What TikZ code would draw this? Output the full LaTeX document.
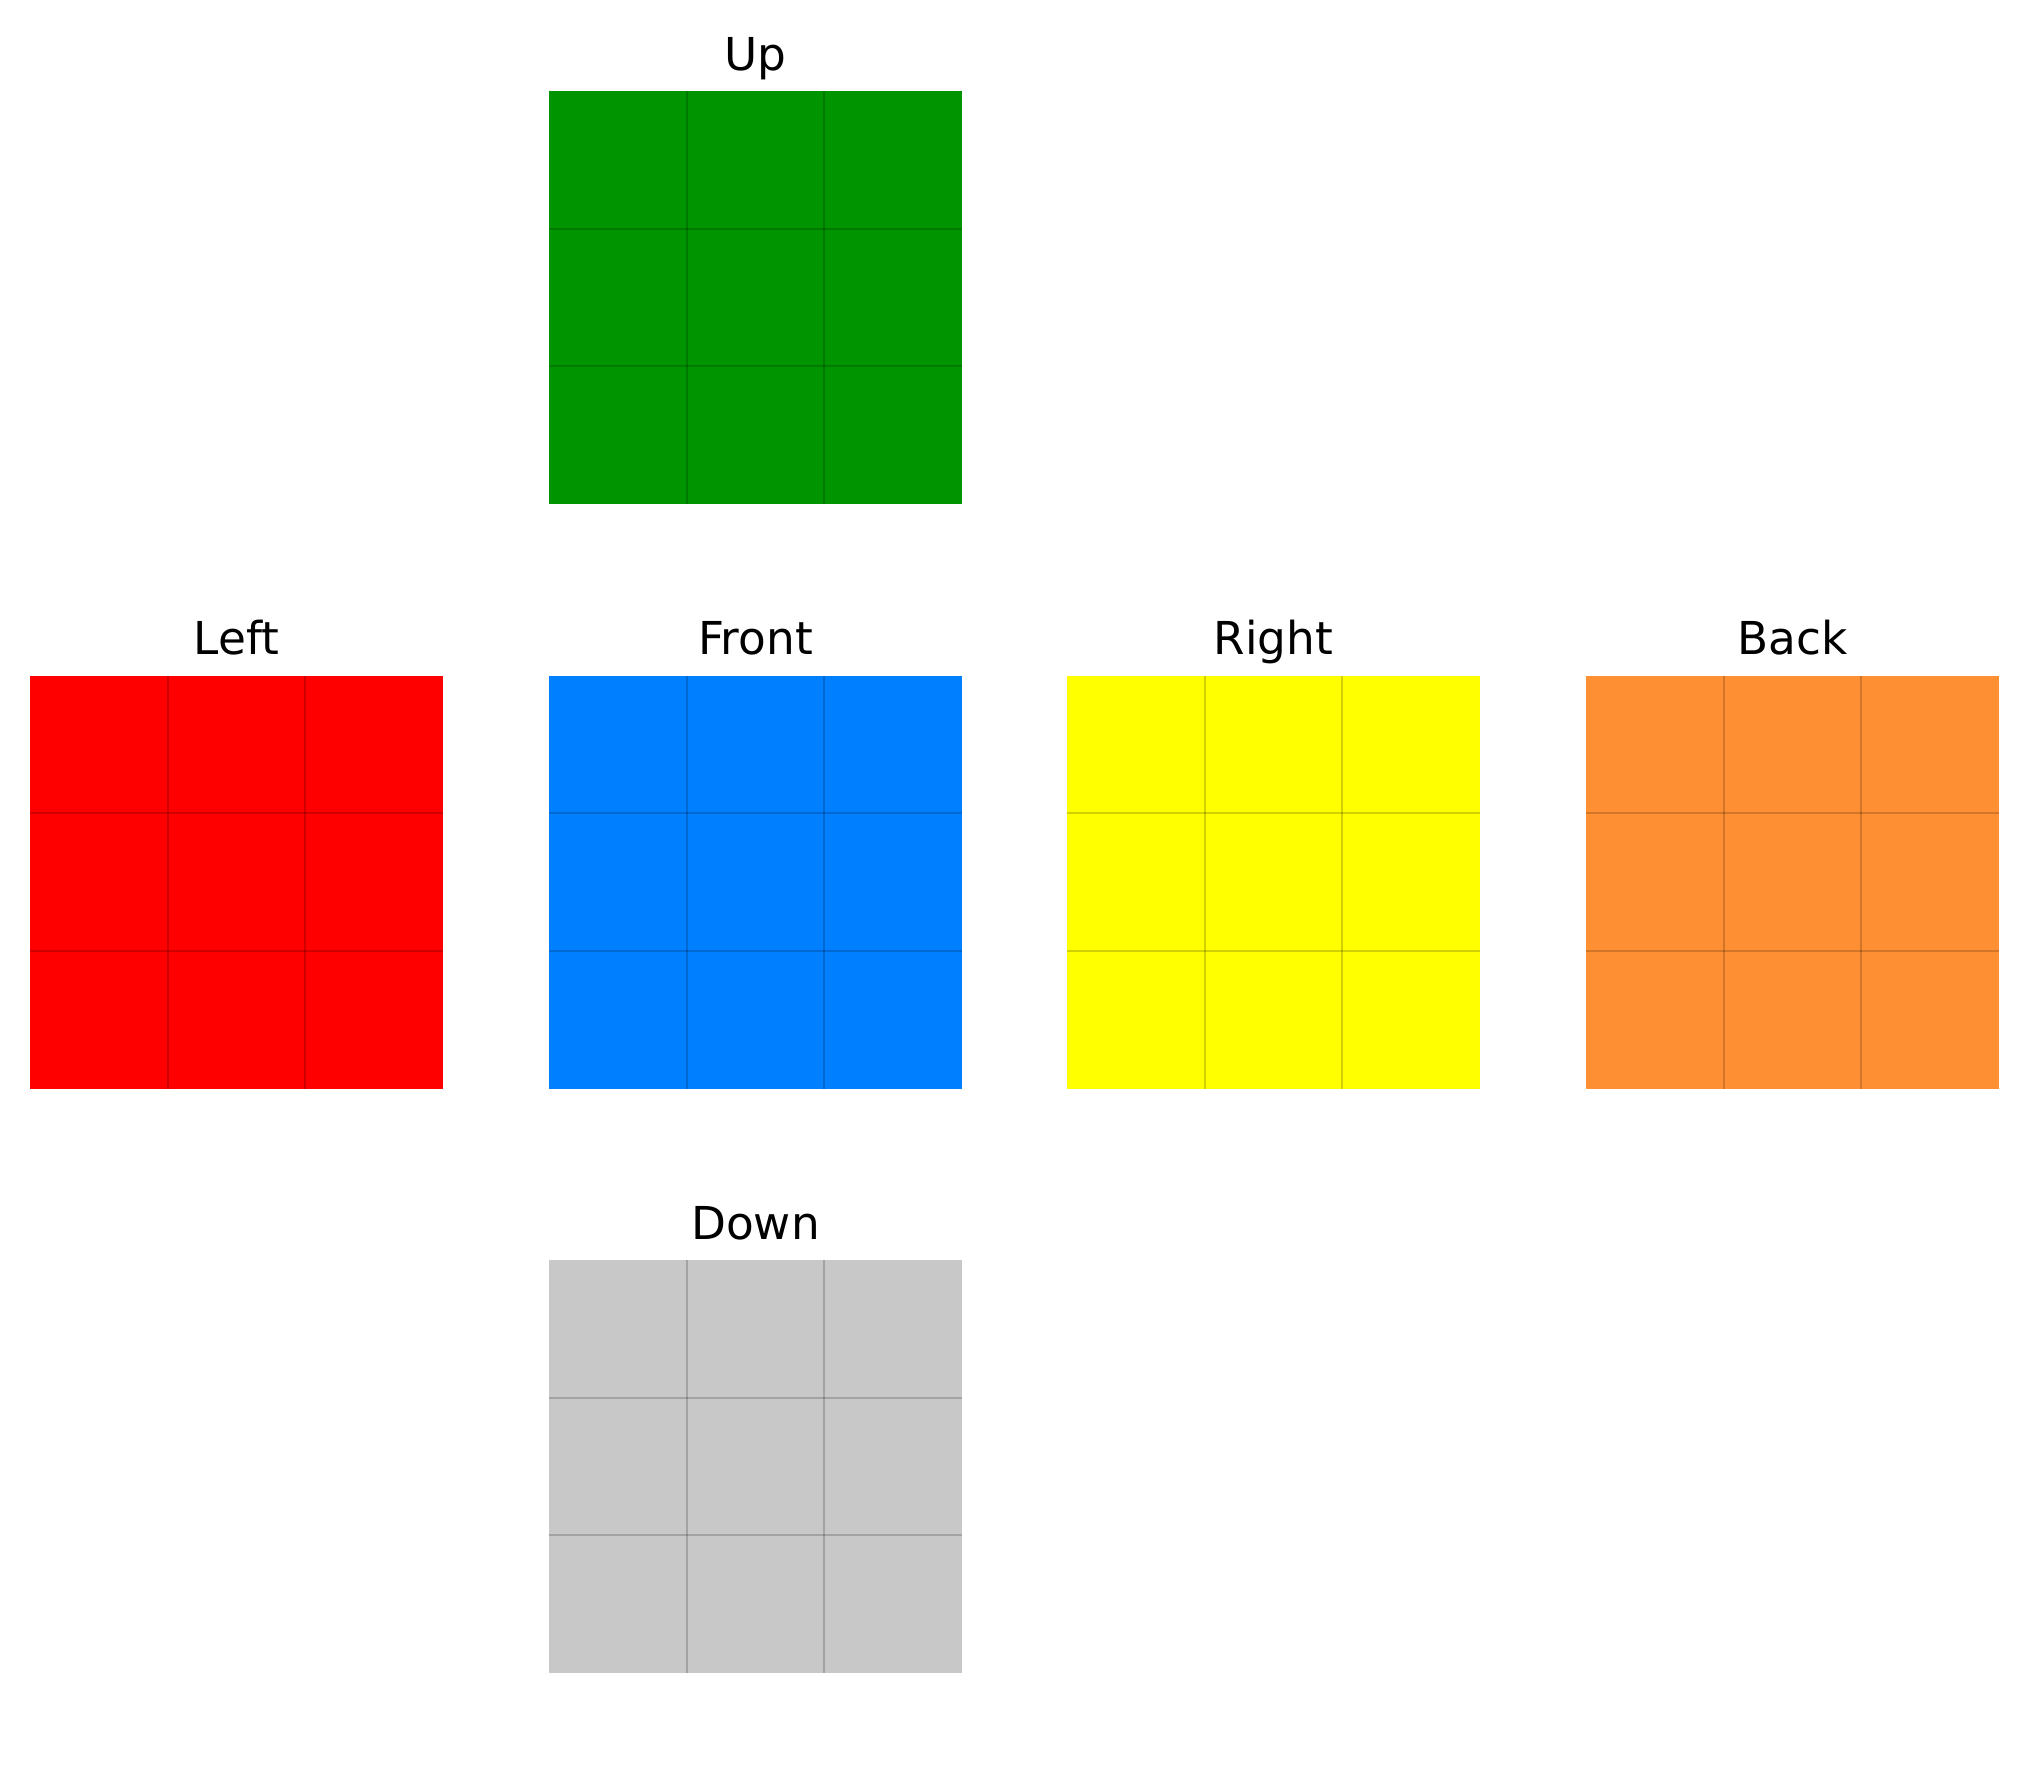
\documentclass[tikz,border=0pt]{standalone}
\usepackage{fontspec}
\setmainfont{DejaVu Sans}
\definecolor{upgreen}{RGB}{0,148,0}
\definecolor{leftred}{RGB}{255,0,0}
\definecolor{frontblue}{RGB}{0,128,255}
\definecolor{rightyellow}{RGB}{255,255,0}
\definecolor{backorange}{RGB}{255,143,51}
\definecolor{downgray}{RGB}{200,200,200}
\tikzset{
  face/.style={minimum size=4.13cm, inner sep=0pt, outer sep=0pt, fill=#1},
  facelabel/.style={anchor=base, inner sep=0pt, font=\fontsize{12.9}{16}\selectfont},
  gridline/.style={black, opacity=0.18, line width=0.6pt}
}
\begin{document}
\begin{tikzpicture}
  \useasboundingbox (0,0) rectangle (20.28,-17.66);
  \foreach \name/\txt/\col/\x/\y in {up/Up/upgreen/7.555/-2.975,
      left/Left/leftred/2.365/-8.82, front/Front/frontblue/7.555/-8.82,
      right/Right/rightyellow/12.735/-8.82, back/Back/backorange/17.925/-8.82,
      down/Down/downgray/7.555/-14.665} {
    \node[face=\col] (\name) at (\x,\y) {};
    \node[facelabel] (\name-label) at ([yshift=0.21cm]\name.north) {\txt};
    % 3x3 stickers
    \foreach \i in {1,2} {
      \draw[gridline] ([xshift=\i*1.3767cm]\name.north west) -- ([xshift=\i*1.3767cm]\name.south west);
      \draw[gridline] ([yshift=-\i*1.3767cm]\name.north west) -- ([yshift=-\i*1.3767cm]\name.north east);
    }
  }
\end{tikzpicture}
\end{document}
